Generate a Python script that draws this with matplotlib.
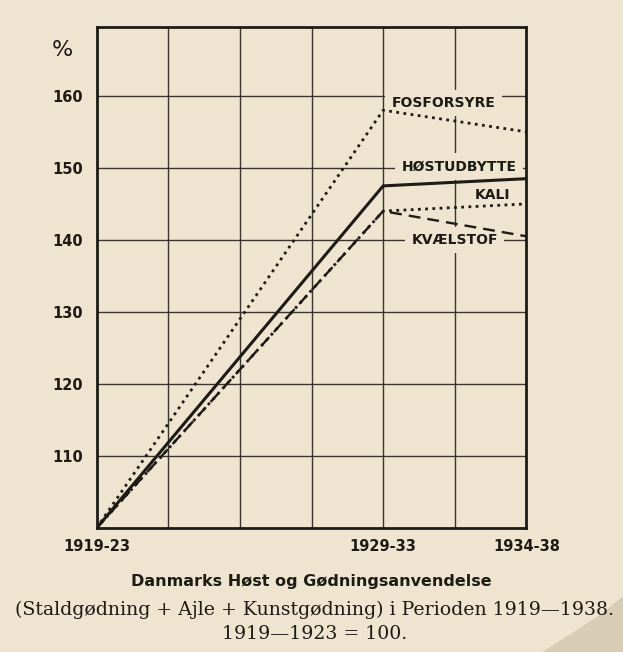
import matplotlib
matplotlib.use("Agg")
import matplotlib.pyplot as plt
from matplotlib.patches import Polygon

# ---- data ----
periods = ["1919-23", "1929-33", "1934-38"]
period_mid = [1921, 1931, 1936]
fosforsyre = [100, 158, 155]
hostudbytte = [100, 147.5, 148.5]
kali = [100, 144, 145]
kvaelstof = [100, 144, 140.5]
y_ticks = [110, 120, 130, 140, 150, 160]

paper = "#eee4cf"
ink = "#1e1a16"

fig = plt.figure(figsize=(6.23, 6.52), dpi=100, facecolor=paper)
ax = fig.add_axes([0.155, 0.19, 0.69, 0.768], facecolor=paper)

ax.set_xlim(1921, 1936)
ax.set_ylim(100, 169.5)

# grid (square)
for gx in [1923.5, 1926, 1928.5, 1931, 1933.5]:
    ax.axvline(gx, color="#3a342c", lw=1.0, zorder=0)
for gy in y_ticks:
    ax.axhline(gy, color="#3a342c", lw=1.0, zorder=0)

for s in ax.spines.values():
    s.set_linewidth(2.0)
    s.set_color(ink)
    s.set_zorder(5)

ax.plot(period_mid, fosforsyre, color=ink, lw=2.0, ls=(0, (1, 1.6)), zorder=4)
ax.plot(period_mid, hostudbytte, color=ink, lw=2.2, ls="-", zorder=4)
ax.plot(period_mid, kali, color=ink, lw=2.0, ls=(0, (1, 1.6)), zorder=4)
ax.plot(period_mid, kvaelstof, color=ink, lw=1.7, ls=(0, (5, 3)), zorder=4)

lab_kw = dict(fontsize=10, fontweight="bold", color=ink, ha="center", va="center",
              zorder=3, bbox=dict(boxstyle="square,pad=0.45", fc=paper, ec="none"))
ax.text(1933.1, 159.0, "FOSFORSYRE", **lab_kw)
ax.text(1933.65, 150.2, "HØSTUDBYTTE", **lab_kw)
ax.text(1934.8, 146.3, "KALI", **lab_kw)
ax.text(1933.5, 140.0, "KVÆLSTOF", **lab_kw)

ax.set_yticks(y_ticks)
ax.set_yticklabels([str(v) for v in y_ticks], fontsize=10.5, fontweight="bold", color=ink)
ax.set_xticks(period_mid)
ax.set_xticklabels(periods, fontsize=10.5, fontweight="bold", color=ink)
ax.tick_params(length=0, pad=10)
ax.tick_params(axis="x", pad=8)

ax.text(-0.08, 0.955, "%", transform=ax.transAxes, fontsize=16, color=ink,
        ha="center", va="center")

fig.text(0.5, 0.108, "Danmarks Høst og Gødningsanvendelse", fontsize=11.5,
         fontweight="bold", color=ink, ha="center", va="center")
fig.text(0.505, 0.065, "(Staldgødning + Ajle + Kunstgødning) i Perioden 1919—1938.",
         fontsize=13.6, family="DejaVu Serif", color=ink, ha="center", va="center")
fig.text(0.505, 0.028, "1919—1923 = 100.", fontsize=13.6, family="DejaVu Serif",
         color=ink, ha="center", va="center")

# curled paper edge at the bottom right
fig.patches.append(Polygon([(1.0, 0.085), (0.96, 0.055), (0.92, 0.03), (0.87, 0.0), (1.0, 0.0)],
                           closed=True, transform=fig.transFigure, fc="#d8ccb4", ec="none"))

fig.savefig("out.png", dpi=100, facecolor=paper)
